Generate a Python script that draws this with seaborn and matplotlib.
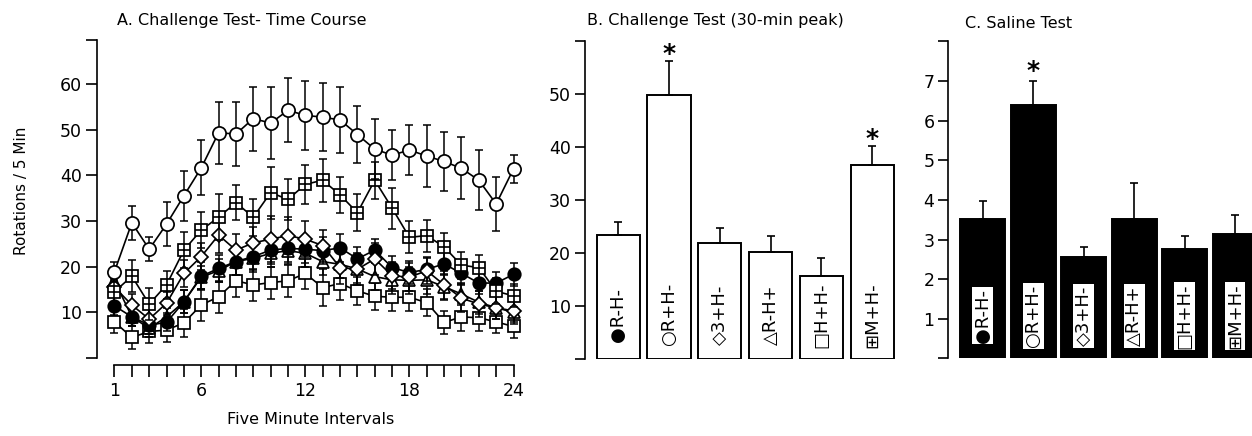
import seaborn as sns
import matplotlib.pyplot as plt

# -------------------------------------------------------------------
# Data
# -------------------------------------------------------------------
INTERVALS = list(range(1, 25))

GROUPS = ["R-H-", "R+H-", "3+H-", "R-H+", "H+H-", "M+H-"]
SYMBOLS = ["●", "○", "◇", "△", "□", "⊞"]

# Panel A: mean rotations / 5 min and SEM per interval
TC_RM_HM = [11.4, 9.0, 7.2, 7.8, 12.3, 17.9, 19.6, 21.1, 22.2, 23.6, 24.0, 23.8,
            23.5, 24.1, 21.7, 23.6, 19.8, 18.7, 19.4, 20.6, 18.5, 16.4, 16.4, 18.3]
TC_RM_HM_SEM = [2.0, 2.0, 2.0, 2.0, 2.5, 3.0, 3.0, 3.0, 3.0, 3.0, 3.0, 3.0,
                3.0, 3.0, 2.5, 2.5, 2.5, 2.5, 2.5, 2.5, 2.5, 2.5, 2.5, 2.5]

TC_RP_HM = [18.9, 29.6, 23.8, 29.3, 35.5, 41.6, 49.3, 49.0, 52.4, 51.4, 54.2, 53.1,
            52.7, 52.1, 48.9, 45.7, 44.4, 45.5, 44.2, 43.0, 41.5, 38.9, 33.7, 41.4]
TC_RP_HM_SEM = [2.2, 3.7, 2.6, 4.8, 5.5, 6.0, 6.8, 7.0, 7.0, 7.8, 7.0, 7.5,
                7.5, 7.3, 6.2, 6.5, 5.5, 5.5, 6.8, 6.5, 6.8, 6.6, 5.8, 3.0]

TC_3P_HM = [15.5, 11.6, 8.5, 12.0, 18.5, 22.2, 26.9, 23.6, 25.2, 26.0, 26.8, 26.0,
            24.6, 19.8, 19.4, 21.7, 18.0, 17.7, 19.1, 16.0, 13.1, 11.8, 11.0, 10.3]
TC_3P_HM_SEM = [2.0, 2.5, 2.5, 2.5, 3.0, 3.0, 4.0, 3.5, 3.5, 5.0, 4.0, 4.0,
                3.5, 3.5, 3.5, 3.5, 3.0, 3.0, 3.0, 3.0, 3.0, 2.8, 2.5, 2.5]

TC_RM_HP = [16.9, 9.0, 6.5, 9.0, 12.3, 17.7, 19.1, 21.1, 21.8, 22.9, 23.5, 22.9,
            21.1, 20.5, 19.5, 17.8, 17.1, 17.0, 17.1, 15.6, 14.0, 12.2, 11.0, 10.0]
TC_RM_HP_SEM = [2.0, 2.0, 2.0, 2.0, 2.5, 2.5, 2.5, 3.0, 3.0, 3.0, 3.0, 3.0,
                3.0, 3.0, 3.0, 3.0, 3.0, 3.0, 3.0, 2.8, 2.5, 2.5, 2.5, 2.5]

TC_HP_HM = [7.9, 4.5, 5.8, 6.1, 7.7, 11.6, 13.4, 16.9, 16.0, 16.5, 16.9, 18.5,
            15.4, 16.3, 14.7, 13.5, 13.3, 13.3, 12.1, 7.8, 9.0, 8.8, 7.9, 6.9]
TC_HP_HM_SEM = [2.5, 2.5, 2.5, 2.5, 3.0, 3.5, 3.5, 3.5, 3.5, 3.5, 3.5, 3.5,
                4.0, 3.5, 3.0, 3.0, 3.0, 3.0, 3.0, 2.5, 3.0, 3.0, 2.5, 2.5]

TC_MP_HM = [14.5, 17.9, 11.8, 16.0, 23.6, 28.0, 30.8, 34.0, 30.8, 36.2, 34.7, 38.0,
            38.9, 35.7, 31.8, 38.9, 32.8, 26.4, 26.8, 24.3, 20.3, 19.8, 14.6, 13.6]
TC_MP_HM_SEM = [2.5, 3.5, 3.5, 3.0, 4.0, 4.0, 5.0, 3.8, 4.0, 5.7, 4.5, 4.2,
                4.7, 4.0, 4.0, 4.0, 4.5, 3.5, 3.5, 3.0, 3.0, 2.8, 2.8, 2.5]

# Panel B: challenge test, 30-min peak
PEAK_MEANS = [23.5, 49.9, 22.0, 20.3, 15.8, 36.7]
PEAK_SEM = [2.4, 6.4, 2.8, 3.0, 3.3, 3.6]
PEAK_SIGNIF = [1, 5]

# Panel C: saline test
SALINE_MEANS = [3.51, 6.40, 2.55, 3.53, 2.76, 3.14]
SALINE_SEM = [0.46, 0.60, 0.25, 0.90, 0.33, 0.48]
SALINE_SIGNIF = [1]

# -------------------------------------------------------------------
# Style
# -------------------------------------------------------------------
sns.set_theme(style="ticks")
plt.rcParams["font.family"] = ["DejaVu Sans"]
for key in ("text.color", "axes.labelcolor", "axes.edgecolor",
            "xtick.color", "ytick.color"):
    plt.rcParams[key] = "black"
plt.rcParams["axes.linewidth"] = 1.2
plt.rcParams["xtick.major.width"] = 1.2
plt.rcParams["ytick.major.width"] = 1.2

FIG_W, FIG_H = 1252, 436


def _px_axes(fig, left, top, right, bottom):
    """Add axes given pixel box (top-left origin)."""
    return fig.add_axes([left / FIG_W, 1 - bottom / FIG_H,
                         (right - left) / FIG_W, (bottom - top) / FIG_H])


def plot_time_course(ax):
    series = [
        # values, sem, marker, face, size
        (TC_HP_HM, TC_HP_HM_SEM, "s", "white", 9),
        (TC_RM_HP, TC_RM_HP_SEM, "^", "white", 9),
        (TC_RM_HM, TC_RM_HM_SEM, "o", "black", 9),
        (TC_3P_HM, TC_3P_HM_SEM, "D", "white", 7),
        (TC_MP_HM, TC_MP_HM_SEM, "s", "white", 9),
        (TC_RP_HM, TC_RP_HM_SEM, "o", "white", 9.5),
    ]
    for k, (vals, sem, mk, face, ms) in enumerate(series):
        ax.errorbar(INTERVALS, vals, yerr=sem, fmt="none", ecolor="black",
                    elinewidth=1.1, capsize=3, capthick=1.1, zorder=2 + k)
        sns.lineplot(x=INTERVALS, y=vals, ax=ax, color="black", linewidth=1.2,
                     marker=mk, markersize=ms, markerfacecolor=face,
                     markeredgecolor="black", markeredgewidth=1.25,
                     errorbar=None, zorder=2.5 + k)
    # cross inside the M+H- squares
    ax.plot(INTERVALS, TC_MP_HM, linestyle="none", marker="+", markersize=9,
            markeredgewidth=1.2, color="black", zorder=6.6)

    ax.set_xlim(0, 24.5)
    ax.set_ylim(0, 69.5)
    ax.set_xticks(INTERVALS)
    ax.set_xticklabels([str(i) if i in (1, 6, 12, 18, 24) else "" for i in INTERVALS])
    ax.set_yticks([0, 10, 20, 30, 40, 50, 60, 69.5])
    ax.set_yticklabels(["", "10", "20", "30", "40", "50", "60", ""])
    ax.tick_params(axis="x", length=8.5, pad=4, labelsize=12.5)
    ax.tick_params(axis="y", length=8, pad=3, labelsize=12.5)
    sns.despine(ax=ax)
    ax.spines["bottom"].set_position(("outward", 5))
    ax.spines["bottom"].set_bounds(1, 24)

    ax.set_xlabel("Five Minute Intervals", fontsize=11.5)
    ax.xaxis.set_label_coords(0.503, -0.17)
    ax.set_ylabel("Rotations / 5 Min", fontsize=11)
    ax.yaxis.set_label_coords(-0.16, 0.526)


def plot_bars(ax, means, sem, signif, face, text_y, star_gap, ylim, width):
    labels = [s + g for s, g in zip(SYMBOLS, GROUPS)]
    sns.barplot(x=labels, y=means, ax=ax, color=face, saturation=1,
                edgecolor="black", linewidth=1.4, width=width, zorder=2)
    ax.errorbar(range(len(means)), means, yerr=[[0] * len(sem), sem], fmt="none",
                ecolor="black", elinewidth=1.2, capsize=3, capthick=1.2, zorder=3)
    for i, lab in enumerate(labels):
        kw = {}
        if face == "black":
            kw["bbox"] = dict(facecolor="white", edgecolor="none", pad=1.0)
        ax.text(i, text_y, lab, rotation=90, ha="center", va="center",
                fontsize=13, color="black", zorder=4, **kw)
    for i in signif:
        ax.text(i, means[i] + sem[i] + star_gap, "*", ha="center", va="center",
                fontsize=18, fontweight="bold", color="black")

    ax.set_ylim(*ylim)
    ax.set_xticks([])
    ax.set_xlabel("")
    sns.despine(ax=ax, bottom=True)
    ax.tick_params(axis="y", length=7, pad=3, labelsize=12.5)


def main():
    fig = plt.figure(figsize=(FIG_W / 100, FIG_H / 100), dpi=100)

    ax_a = _px_axes(fig, 97.15, 40.4, 522.2, 358)
    plot_time_course(ax_a)

    ax_b = _px_axes(fig, 585, 41.3, 897.7, 359.3)
    plot_bars(ax_b, PEAK_MEANS, PEAK_SEM, PEAK_SIGNIF, "white", 8.4, 1.3, (0, 60), 0.85)
    ax_b.set_xlim(-0.655, 5.5)
    ax_b.set_yticks(range(0, 61, 10))
    ax_b.set_yticklabels(["", "10", "20", "30", "40", "50", ""])

    ax_c = _px_axes(fig, 948.3, 41.5, 1252.1, 358.3)
    plot_bars(ax_c, SALINE_MEANS, SALINE_SEM, SALINE_SIGNIF, "black", 1.07, 0.25, (0, 8), 0.89)
    ax_c.set_xlim(-0.687, 5.34)
    ax_c.set_yticks(range(0, 9))
    ax_c.set_yticklabels(["", "1", "2", "3", "4", "5", "6", "7", ""])

    fig.text(117 / FIG_W, 1 - 21 / FIG_H, "A. Challenge Test- Time Course",
             ha="left", va="center", fontsize=11.5)
    fig.text(587 / FIG_W, 1 - 21 / FIG_H, "B. Challenge Test (30-min peak)",
             ha="left", va="center", fontsize=11.5)
    fig.text(965 / FIG_W, 1 - 23 / FIG_H, "C. Saline Test",
             ha="left", va="center", fontsize=11.5)

    fig.savefig("out.png", dpi=100)
    plt.close(fig)


if __name__ == "__main__":
    main()
